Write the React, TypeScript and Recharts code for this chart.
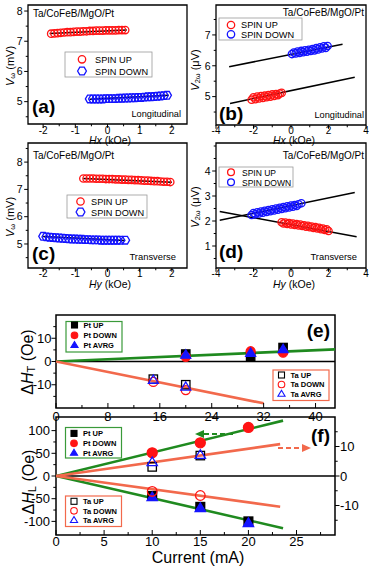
import React from 'react';
import { ComposedChart, Scatter, Line, XAxis, YAxis, ReferenceArea, ReferenceLine } from 'recharts';

const FONT = '"Liberation Sans", Arial, Helvetica, sans-serif';
const RED = '#ff1414';
const BLUE = '#1414ff';
const GREEN = '#1f8a1f';
const ORANGE = '#f2694c';
const LGREEN = '#3a9a3a';

// ---------- Panel (a): longitudinal, V_omega vs Hx ----------
const aUpH = [-1.75, -1.65, -1.55, -1.45, -1.35, -1.25, -1.15, -1.05, -0.95, -0.85, -0.75, -0.65, -0.55, -0.45, -0.35, -0.25, -0.15, -0.05, 0.05, 0.15, 0.25, 0.35, 0.45, 0.55];
const aUpV = [7.25, 7.26, 7.27, 7.28, 7.29, 7.30, 7.30, 7.31, 7.32, 7.32, 7.33, 7.33, 7.34, 7.34, 7.35, 7.35, 7.35, 7.36, 7.36, 7.36, 7.36, 7.37, 7.37, 7.37];
const aUpFitH = [-1.8, 0.6];
const aUpFitV = [7.26, 7.37];
const aDnH = [-0.55, -0.45, -0.35, -0.25, -0.15, -0.05, 0.05, 0.15, 0.25, 0.35, 0.45, 0.55, 0.65, 0.75, 0.85, 0.95, 1.05, 1.15, 1.25, 1.35, 1.45, 1.55, 1.65, 1.75, 1.85];
const aDnV = [5.09, 5.09, 5.09, 5.09, 5.09, 5.10, 5.10, 5.10, 5.10, 5.11, 5.11, 5.12, 5.12, 5.13, 5.13, 5.14, 5.14, 5.15, 5.16, 5.16, 5.17, 5.18, 5.19, 5.20, 5.21];
const aDnFitH = [-0.55, 1.9];
const aDnFitV = [5.08, 5.21];

// ---------- Panel (b): longitudinal, V_2omega vs Hx ----------
const bUpH = [-2.1, -2.0, -1.9, -1.8, -1.7, -1.6, -1.5, -1.4, -1.3, -1.2, -1.1, -1.0, -0.9, -0.8, -0.7, -0.6, -0.5];
const bUpV = [4.90, 4.98, 4.92, 5.00, 4.94, 5.02, 4.96, 5.03, 4.98, 5.05, 5.00, 5.07, 5.02, 5.08, 5.05, 5.10, 5.12];
const bUpFitH = [-3.25, 3.4];
const bUpFitV = [4.78, 5.63];
const bDnH = [0.05, 0.15, 0.25, 0.35, 0.45, 0.55, 0.65, 0.75, 0.85, 0.95, 1.05, 1.15, 1.25, 1.35, 1.45, 1.55, 1.65, 1.75, 1.85, 1.95];
const bDnV = [6.38, 6.43, 6.40, 6.46, 6.42, 6.48, 6.44, 6.50, 6.46, 6.52, 6.48, 6.54, 6.50, 6.57, 6.53, 6.60, 6.56, 6.63, 6.58, 6.64];
const bDnFitH = [-3.3, 2.75];
const bDnFitV = [5.97, 6.70];

// ---------- Panel (c): transverse, V_omega vs Hy ----------
const cUpH = [-0.75, -0.65, -0.55, -0.45, -0.35, -0.25, -0.15, -0.05, 0.05, 0.15, 0.25, 0.35, 0.45, 0.55, 0.65, 0.75, 0.85, 0.95, 1.05, 1.15, 1.25, 1.35, 1.45, 1.55, 1.65, 1.75, 1.85, 1.95];
const cUpV = [7.40, 7.40, 7.40, 7.40, 7.39, 7.39, 7.39, 7.38, 7.38, 7.38, 7.37, 7.37, 7.36, 7.36, 7.35, 7.35, 7.34, 7.34, 7.33, 7.32, 7.32, 7.31, 7.30, 7.30, 7.29, 7.28, 7.28, 7.27];
const cUpFitH = [-0.75, 2.0];
const cUpFitV = [7.40, 7.26];
const cDnH = [-2.0, -1.9, -1.8, -1.7, -1.6, -1.5, -1.4, -1.3, -1.2, -1.1, -1.0, -0.9, -0.8, -0.7, -0.6, -0.5, -0.4, -0.3, -0.2, -0.1, 0.0, 0.1, 0.2, 0.3, 0.4, 0.55];
const cDnV = [5.28, 5.26, 5.25, 5.24, 5.23, 5.22, 5.21, 5.20, 5.19, 5.18, 5.18, 5.17, 5.17, 5.16, 5.16, 5.15, 5.15, 5.15, 5.14, 5.14, 5.14, 5.14, 5.14, 5.14, 5.14, 5.14];
const cDnFitH = [-2.0, 0.55];
const cDnFitV = [5.27, 5.13];

// ---------- Panel (d): transverse, V_2omega vs Hy ----------
const dUpH = [-0.5, -0.4, -0.3, -0.2, -0.1, 0.0, 0.1, 0.2, 0.3, 0.4, 0.5, 0.6, 0.7, 0.8, 0.9, 1.0, 1.1, 1.2, 1.3, 1.4, 1.5, 1.6, 1.7, 1.8, 1.9, 2.0];
const dUpV = [1.95, 1.90, 1.94, 1.88, 1.92, 1.86, 1.90, 1.84, 1.88, 1.82, 1.86, 1.80, 1.83, 1.77, 1.81, 1.75, 1.78, 1.72, 1.76, 1.70, 1.73, 1.67, 1.70, 1.64, 1.67, 1.60];
const dUpFitH = [-3.8, 3.5];
const dUpFitV = [2.38, 1.37];
const dDnH = [-2.1, -2.0, -1.9, -1.8, -1.7, -1.6, -1.5, -1.4, -1.3, -1.2, -1.1, -1.0, -0.9, -0.8, -0.7, -0.6, -0.5, -0.4, -0.3, -0.2, -0.1, 0.0, 0.1, 0.2, 0.3, 0.4, 0.55];
const dDnV = [2.24, 2.32, 2.27, 2.35, 2.30, 2.38, 2.33, 2.41, 2.36, 2.44, 2.39, 2.47, 2.42, 2.50, 2.45, 2.53, 2.48, 2.56, 2.51, 2.59, 2.54, 2.62, 2.57, 2.64, 2.60, 2.67, 2.71];
const dDnFitH = [-3.8, 3.4];
const dDnFitV = [2.03, 3.14];

// ---------- Panel (e): ΔH_T vs current ----------
const ePtI = [20, 30, 35];
const ePtUp = [3.2, 2.2, 6.0];
const ePtDown = [2.0, 4.4, 3.8];
const ePtAvg = [2.8, 3.6, 5.2];
const eTaI = [15, 20];
const eTaUp = [-7.6, -10.0];
const eTaDown = [-8.8, -12.3];
const eTaAvg = [-8.0, -11.0];
const eGreenI = [0, 43];
const eGreenV = [0, 5.2];
const eOrangeI = [0, 32];
const eOrangeV = [0, -18];

// ---------- Panel (f): ΔH_L vs current ----------
const fPtI = [10, 15, 20];
const fPtUp = [-44, -68, -100];
const fPtDown = [51, 73, 107];
const fPtAvg = [-47, -71, -104];
const fTaI = [10, 15];
const fTaUp = [20, 45];
const fTaDown = [-34, -43];
const fTaAvg = [30, 46];
const fGreenI = [0, 23.6];
const fGreenUp = [0, 122];
const fGreenDn = [0, -115];
const fOrangeI = [0, 23.3];
const fOrangeUp = [0, 10.8];
const fOrangeDn = [0, -10.4];

// ---------- Tick lists ----------
const abXTicksA = [-2, -1.5, -1, -0.5, 0, 0.5, 1, 1.5, 2];
const abXMajorA = [-2, -1, 0, 1, 2];
const xTicksB = [-4, -3, -2, -1, 0, 1, 2, 3, 4];
const xMajorB = [-4, -2, 0, 2, 4];
const yTicksA = [4.5, 5, 5.5, 6, 6.5, 7, 7.5, 8];
const yMajorA = [5, 6, 7, 8];
const yTicksB = [4.5, 5, 5.5, 6, 6.5, 7, 7.5];
const yMajorB = [5, 6, 7];
const yTicksC = [4.5, 5, 5.5, 6, 6.5, 7, 7.5, 8, 8.5];
const yMajorC = [5, 6, 7, 8];
const yTicksD = [0.5, 1, 1.5, 2, 2.5, 3, 3.5, 4, 4.5, 5];
const yMajorD = [1, 2, 3, 4];
const eXTicks = [0, 4, 8, 12, 16, 20, 24, 28, 32, 36, 40];
const eXMajor = [0, 8, 16, 24, 32, 40];
const eYTicks = [-15, -10, -5, 0, 5, 10, 15];
const eYMajor = [-10, 0, 10];
const fXTicks = [0, 2.5, 5, 7.5, 10, 12.5, 15, 17.5, 20, 22.5, 25, 27.5];
const fXMajor = [0, 5, 10, 15, 20, 25];
const fYLTicks = [-100, -75, -50, -25, 0, 25, 50, 75, 100];
const fYLMajor = [-100, -50, 0, 50, 100];
const fYRTicks = [-15, -10, -5, 0, 5, 10, 15];
const fYRMajor = [-10, 0, 10];

const toPts = (xs: number[], ys: number[]) => xs.map((x, i) => ({ x, y: ys[i] }));

// ---------- marker drawing ----------
type Kind = 'circle' | 'hex' | 'square' | 'tri';
function marker(kind: Kind, cx: number, cy: number, color: string, size: number, filled: boolean, sw = 1.3) {
  const fill = filled ? color : 'none';
  if (kind === 'circle') return <circle cx={cx} cy={cy} r={size} fill={fill} stroke={color} strokeWidth={sw} />;
  if (kind === 'square') return <rect x={cx - size} y={cy - size} width={size * 2} height={size * 2} fill={fill} stroke={color} strokeWidth={sw} />;
  if (kind === 'tri') {
    const h = size * 1.8;
    const p = `${cx},${cy - h * 0.62} ${cx - size * 1.08},${cy + h * 0.38} ${cx + size * 1.08},${cy + h * 0.38}`;
    return <polygon points={p} fill={fill} stroke={color} strokeWidth={sw} strokeLinejoin="miter" />;
  }
  const ry = size * 0.87;
  const p = `${cx - size},${cy} ${cx - size / 2},${cy - ry} ${cx + size / 2},${cy - ry} ${cx + size},${cy} ${cx + size / 2},${cy + ry} ${cx - size / 2},${cy + ry}`;
  return <polygon points={p} fill={fill} stroke={color} strokeWidth={sw} />;
}
const shape = (kind: Kind, color: string, size: number, filled: boolean, sw = 1.3) => (p: any) =>
  p && p.cx != null && p.cy != null ? marker(kind, p.cx, p.cy, color, size, filled, sw) : <g />;

// ---------- tick renderer ----------
const mkTick = (side: 'b' | 'l' | 'r', majors: number[], fs: number, len: number, off: number, inward = false) =>
  (props: any) => {
    const { x, y, payload } = props;
    const v = payload ? payload.value : 0;
    const isMajor = majors.some((m) => Math.abs(m - v) < 1e-6);
    const L = isMajor ? len : len * 0.6;
    const d = inward ? -1 : 1;
    if (side === 'b') {
      return (
        <g>
          <line x1={x} y1={y} x2={x} y2={y + d * L} stroke="#000" strokeWidth={1} />
          {isMajor ? (
            <text x={x} y={y + off} textAnchor="middle" fontSize={fs} fontFamily={FONT} fill="#000">
              {String(v)}
            </text>
          ) : null}
        </g>
      );
    }
    const s = side === 'l' ? -1 : 1;
    return (
      <g>
        <line x1={x} y1={y} x2={x + s * d * L} y2={y} stroke="#000" strokeWidth={1} />
        {isMajor ? (
          <text x={x + s * off} y={y} dy="0.36em" textAnchor={side === 'l' ? 'end' : 'start'} fontSize={fs} fontFamily={FONT} fill="#000">
            {String(v)}
          </text>
        ) : null}
      </g>
    );
  };

type Box = { L: number; T: number; R: number; B: number };
type Cont = { x: number; y: number; w: number; h: number };

function layout(cont: Cont, box: Box, rightW = 0) {
  return {
    style: { position: 'absolute' as const, left: cont.x, top: cont.y, width: cont.w, height: cont.h },
    margin: { top: box.T - cont.y, right: cont.x + cont.w - box.R - rightW, bottom: 0, left: 0 },
    yW: box.L - cont.x,
    xH: cont.y + cont.h - box.B,
  };
}

type SmallCfg = {
  cont: Cont; box: Box; xD: [number, number]; yD: [number, number];
  xTicks: number[]; xMajor: number[]; yTicks: number[]; yMajor: number[]; xOff: number;
  up: { x: number; y: number }[]; dn: { x: number; y: number }[];
  upFit: { x: number; y: number }[]; dnFit: { x: number; y: number }[]; dnKind: Kind;
};

function renderSmall(c: SmallCfg) {
  const f = layout(c.cont, c.box);
  return (
    <div style={f.style}>
      <ComposedChart width={c.cont.w} height={c.cont.h} margin={f.margin}>
        <XAxis type="number" dataKey="x" domain={c.xD} allowDataOverflow ticks={c.xTicks} interval={0}
          axisLine={false} tickLine={false} tickSize={0} tickMargin={0} height={f.xH}
          tick={mkTick('b', c.xMajor, 10, 3.8, c.xOff)} />
        <YAxis type="number" dataKey="y" domain={c.yD} allowDataOverflow ticks={c.yTicks} interval={0}
          axisLine={false} tickLine={false} tickSize={0} tickMargin={0} width={f.yW}
          tick={mkTick('l', c.yMajor, 10.5, 3.8, 5.5)} />
        <Scatter data={c.up} dataKey="y" shape={shape('circle', RED, 3.7, false, 1.3)} isAnimationActive={false} />
        <Scatter data={c.dn} dataKey="y" shape={shape(c.dnKind, BLUE, c.dnKind === 'hex' ? 4.4 : 3.7, false, 1.3)} isAnimationActive={false} />
        <Line data={c.upFit} dataKey="y" stroke="#000" strokeWidth={1.5} dot={false} isAnimationActive={false} />
        <Line data={c.dnFit} dataKey="y" stroke="#000" strokeWidth={1.5} dot={false} isAnimationActive={false} />
        <ReferenceArea x1={c.xD[0]} x2={c.xD[1]} y1={c.yD[0]} y2={c.yD[1]} fill="none" fillOpacity={0} stroke="#000" strokeWidth={1.3} />
      </ComposedChart>
    </div>
  );
}

function ItText({ x, y, fs, rot, parts }: { x: number; y: number; fs: number; rot?: boolean; parts: { t: string; it?: boolean; sub?: boolean }[] }) {
  let shift = 0;
  const spans = parts.map((p, i) => {
    const target = p.sub ? fs * 0.22 : 0;
    const dy = target - shift;
    shift = target;
    return (
      <tspan key={i} fontStyle={p.it ? 'italic' : 'normal'} fontSize={p.sub ? fs * 0.68 : fs} dy={dy}>
        {p.t}
      </tspan>
    );
  });
  return (
    <text transform={rot ? `translate(${x},${y}) rotate(-90)` : undefined} x={rot ? 0 : x} y={rot ? 0 : y}
      textAnchor="middle" dominantBaseline={rot ? 'central' : undefined} fontSize={fs} fontFamily={FONT} fill="#000">
      {spans}
    </text>
  );
}

function Overlay() {
  const t = (x: number, y: number, s: string, fs: number, anchor: 'start' | 'end' | 'middle' = 'start', bold = false) => (
    <text x={x} y={y} fontSize={fs} fontFamily={FONT} textAnchor={anchor} fontWeight={bold ? 'bold' : 'normal'} fill="#000">{s}</text>
  );
  const ptLegend = (bx: number, by: number, names: string[], ys: number[], stroke: string, filled: boolean) => (
    <g>
      <rect x={bx} y={by} width={56} height={30.5} fill="#fff" stroke={stroke} strokeWidth={1.2} />
      {marker('square', bx + 8.5, ys[0], '#000', 3, filled, 1.1)}
      {marker('circle', bx + 8.5, ys[1], RED, 3.3, filled, 1.1)}
      {marker('tri', bx + 8.5, ys[2], BLUE, 3.3, filled, 1.1)}
      {names.map((n, i) => (
        <text key={n} x={bx + 17.5} y={ys[i] + 2.7} fontSize={7.5} fontWeight="bold" fontFamily={FONT} fill="#000">{n}</text>
      ))}
    </g>
  );
  return (
    <svg width={374} height={578} style={{ position: 'absolute', left: 0, top: 0, pointerEvents: 'none' }}>
      {/* (a) */}
      {t(33, 17, 'Ta/CoFeB/MgO/Pt', 10)}
      <rect x={65} y={52} width={87} height={25} fill="#fff" stroke="#9a9a9a" strokeWidth={0.8} />
      {marker('circle', 82, 59.3, RED, 3.7, false)}
      {marker('hex', 82, 71, BLUE, 4.4, false)}
      {t(95, 63, 'SPIN UP', 9.2)}
      {t(95, 75, 'SPIN DOWN', 9.2)}
      {t(181, 116.5, 'Longitudinal', 9.2, 'end')}
      {t(32, 113, '(a)', 19, 'start', true)}
      <ItText x={10} y={66} fs={11} rot parts={[{ t: 'V', it: true }, { t: 'ω', sub: true }, { t: ' (mV)' }]} />
      <ItText x={110} y={144} fs={10.5} parts={[{ t: 'Hx', it: true }, { t: ' (kOe)' }]} />

      {/* (b) */}
      {t(364, 16, 'Ta/CoFeB/MgO/Pt', 10, 'end')}
      <rect x={219} y={18} width={83} height={22} fill="#fff" stroke="#9a9a9a" strokeWidth={0.8} />
      {marker('circle', 231, 25, RED, 3.7, false)}
      {marker('circle', 231, 34.3, BLUE, 3.7, false)}
      {t(241, 28.3, 'SPIN UP', 9.2)}
      {t(241, 37.6, 'SPIN DOWN', 9.2)}
      {t(364, 118, 'Longitudinal', 9.2, 'end')}
      {t(219, 120, '(b)', 19, 'start', true)}
      <ItText x={195} y={70} fs={11} rot parts={[{ t: 'V', it: true }, { t: '2ω', sub: true }, { t: ' (μV)' }]} />
      <ItText x={294} y={144} fs={10.5} parts={[{ t: 'Hx', it: true }, { t: ' (kOe)' }]} />

      {/* (c) */}
      {t(33, 159, 'Ta/CoFeB/MgO/Pt', 10)}
      <rect x={67} y={195} width={80} height={23} fill="#fff" stroke="#9a9a9a" strokeWidth={0.8} />
      {marker('circle', 80.5, 201.5, RED, 3.7, false)}
      {marker('hex', 80.5, 212, BLUE, 4.4, false)}
      {t(91, 205, 'SPIN UP', 9.2)}
      {t(91, 216, 'SPIN DOWN', 9.2)}
      {t(176, 260, 'Transverse', 9.4, 'end')}
      {t(32, 260, '(c)', 19, 'start', true)}
      <ItText x={10} y={217} fs={11} rot parts={[{ t: 'V', it: true }, { t: 'ω', sub: true }, { t: ' (mV)' }]} />
      <ItText x={110} y={288} fs={10.5} parts={[{ t: 'Hy', it: true }, { t: ' (kOe)' }]} />

      {/* (d) */}
      {t(364, 159, 'Ta/CoFeB/MgO/Pt', 10, 'end')}
      <rect x={219} y={167} width={74} height={20} fill="#fff" stroke="#9a9a9a" strokeWidth={0.8} />
      {marker('circle', 231, 172.3, RED, 3.4, false)}
      {marker('circle', 231, 182.3, BLUE, 3.4, false)}
      {t(242, 175.5, 'SPIN UP', 8.5)}
      {t(242, 185.5, 'SPIN DOWN', 8.5)}
      {t(357, 260, 'Transverse', 9.4, 'end')}
      {t(219, 258, '(d)', 19, 'start', true)}
      <ItText x={195} y={207} fs={11} rot parts={[{ t: 'V', it: true }, { t: '2ω', sub: true }, { t: ' (μV)' }]} />
      <ItText x={294} y={288} fs={10.5} parts={[{ t: 'Hy', it: true }, { t: ' (kOe)' }]} />

      {/* (e) */}
      {ptLegend(66, 321.5, ['Pt UP', 'Pt DOWN', 'Pt AVRG'], [325, 335.3, 345.2], LGREEN, true)}
      {ptLegend(273, 370, ['Ta UP', 'Ta DOWN', 'Ta AVRG'], [375, 384.5, 394], ORANGE, false)}
      {t(330, 337, '(e)', 19, 'end', true)}
      <ItText x={27} y={362} fs={16} rot parts={[{ t: 'Δ' }, { t: 'H', it: true }, { t: 'T', sub: true }, { t: ' (Oe)' }]} />

      {/* (f) */}
      {ptLegend(65.5, 427.5, ['Pt UP', 'Pt DOWN', 'Pt AVRG'], [433.4, 443.3, 453], LGREEN, true)}
      {ptLegend(65.5, 496, ['Ta UP', 'Ta DOWN', 'Ta AVRG'], [501.3, 510.8, 520.2], ORANGE, false)}
      {t(330, 442, '(f)', 19, 'end', true)}
      <ItText x={28} y={482} fs={16} rot parts={[{ t: 'Δ' }, { t: 'H', it: true }, { t: 'L', sub: true }, { t: ' (Oe)' }]} />
      <ItText x={198} y={563} fs={16} parts={[{ t: 'Current (mA)' }]} />
      <line x1={233} y1={434} x2={203} y2={434} stroke={GREEN} strokeWidth={2} strokeDasharray="5 3" />
      <polygon points="195,434 204,430 204,438" fill={GREEN} />
      <line x1={278} y1={448} x2={303} y2={448} stroke={ORANGE} strokeWidth={2} strokeDasharray="5 3" />
      <polygon points="311,448 302,444 302,452" fill={ORANGE} />
    </svg>
  );
}

const contA: Cont = { x: 0, y: 0, w: 190, h: 145 };
const boxA: Box = { L: 28, T: 5, R: 187, B: 124 };
const contB: Cont = { x: 190, y: 0, w: 184, h: 145 };
const boxB: Box = { L: 216, T: 5, R: 366, B: 125 };
const contC: Cont = { x: 0, y: 138, w: 190, h: 152 };
const boxC: Box = { L: 28, T: 143, R: 187, B: 268 };
const contD: Cont = { x: 190, y: 138, w: 184, h: 152 };
const boxD: Box = { L: 216, T: 143, R: 366, B: 268 };
const contE: Cont = { x: 0, y: 290, w: 374, h: 135 };
const boxE: Box = { L: 56, T: 315, R: 335, B: 408 };
const contF: Cont = { x: 0, y: 410, w: 374, h: 168 };
const boxF: Box = { L: 56, T: 417, R: 335, B: 535 };

export default function App() {
  const eL = layout(contE, boxE);
  const fRW = 39;
  const fL = layout(contF, boxF, fRW);
  const eXD: [number, number] = [0, 43];
  const eYD: [number, number] = [-20, 20];
  const fXD: [number, number] = [0, 29];
  const fYLD: [number, number] = [-130, 130];
  const fYRD: [number, number] = [-20, 20];
  return (
    <div style={{ position: 'absolute', left: 0, top: 0, width: 374, height: 578, background: '#fff', overflow: 'hidden', fontFamily: FONT }}>
      {renderSmall({
        cont: contA, box: boxA, xD: [-2.47, 2.47], yD: [4.26, 8.2], xTicks: abXTicksA, xMajor: abXMajorA,
        yTicks: yTicksA, yMajor: yMajorA, xOff: 9.5,
        up: toPts(aUpH, aUpV), dn: toPts(aDnH, aDnV), upFit: toPts(aUpFitH, aUpFitV), dnFit: toPts(aDnFitH, aDnFitV), dnKind: 'hex',
      })}
      {renderSmall({
        cont: contB, box: boxB, xD: [-4, 4], yD: [4.08, 7.97], xTicks: xTicksB, xMajor: xMajorB,
        yTicks: yTicksB, yMajor: yMajorB, xOff: 8.5,
        up: toPts(bUpH, bUpV), dn: toPts(bDnH, bDnV), upFit: toPts(bUpFitH, bUpFitV), dnFit: toPts(bDnFitH, bDnFitV), dnKind: 'circle',
      })}
      {renderSmall({
        cont: contC, box: boxC, xD: [-2.47, 2.47], yD: [4.12, 8.7], xTicks: abXTicksA, xMajor: abXMajorA,
        yTicks: yTicksC, yMajor: yMajorC, xOff: 9,
        up: toPts(cUpH, cUpV), dn: toPts(cDnH, cDnV), upFit: toPts(cUpFitH, cUpFitV), dnFit: toPts(cDnFitH, cDnFitV), dnKind: 'hex',
      })}
      {renderSmall({
        cont: contD, box: boxD, xD: [-4, 4], yD: [0.12, 5.12], xTicks: xTicksB, xMajor: xMajorB,
        yTicks: yTicksD, yMajor: yMajorD, xOff: 9,
        up: toPts(dUpH, dUpV), dn: toPts(dDnH, dDnV), upFit: toPts(dUpFitH, dUpFitV), dnFit: toPts(dDnFitH, dDnFitV), dnKind: 'circle',
      })}

      <div style={eL.style}>
        <ComposedChart width={contE.w} height={contE.h} margin={eL.margin}>
          <XAxis type="number" dataKey="x" domain={eXD} allowDataOverflow ticks={eXTicks} interval={0}
            axisLine={false} tickLine={false} tickSize={0} tickMargin={0} height={eL.xH}
            tick={mkTick('b', eXMajor, 13, 5, 12.5, true)} />
          <YAxis type="number" dataKey="y" domain={eYD} allowDataOverflow ticks={eYTicks} interval={0}
            axisLine={false} tickLine={false} tickSize={0} tickMargin={0} width={eL.yW}
            tick={mkTick('l', eYMajor, 13, 4.5, 4.5)} />
          <ReferenceLine y={0} stroke="#000" strokeWidth={1.3} />
          <Line data={toPts(eGreenI, eGreenV)} dataKey="y" stroke={GREEN} strokeWidth={2.6} dot={false} isAnimationActive={false} />
          <Line data={toPts(eOrangeI, eOrangeV)} dataKey="y" stroke={ORANGE} strokeWidth={2.6} dot={false} isAnimationActive={false} />
          <Scatter data={toPts(ePtI, ePtUp)} dataKey="y" shape={shape('square', '#000', 4.2, true)} isAnimationActive={false} />
          <Scatter data={toPts(ePtI, ePtDown)} dataKey="y" shape={shape('circle', RED, 4.5, true)} isAnimationActive={false} />
          <Scatter data={toPts(ePtI, ePtAvg)} dataKey="y" shape={shape('tri', BLUE, 4.6, true)} isAnimationActive={false} />
          <Scatter data={toPts(eTaI, eTaUp)} dataKey="y" shape={shape('square', '#000', 4.2, false, 1.3)} isAnimationActive={false} />
          <Scatter data={toPts(eTaI, eTaDown)} dataKey="y" shape={shape('circle', RED, 4.5, false, 1.3)} isAnimationActive={false} />
          <Scatter data={toPts(eTaI, eTaAvg)} dataKey="y" shape={shape('tri', BLUE, 4.6, false, 1.3)} isAnimationActive={false} />
          <ReferenceArea x1={eXD[0]} x2={eXD[1]} y1={eYD[0]} y2={eYD[1]} fill="none" fillOpacity={0} stroke="#000" strokeWidth={1.5} />
        </ComposedChart>
      </div>

      <div style={fL.style}>
        <ComposedChart width={contF.w} height={contF.h} margin={fL.margin}>
          <XAxis type="number" dataKey="x" domain={fXD} allowDataOverflow ticks={fXTicks} interval={0}
            axisLine={false} tickLine={false} tickSize={0} tickMargin={0} height={fL.xH}
            tick={mkTick('b', fXMajor, 13, 5, 10.5, true)} />
          <YAxis yAxisId="l" type="number" dataKey="y" domain={fYLD} allowDataOverflow ticks={fYLTicks} interval={0}
            axisLine={false} tickLine={false} tickSize={0} tickMargin={0} width={fL.yW}
            tick={mkTick('l', fYLMajor, 13, 4.5, 6)} />
          <YAxis yAxisId="r" orientation="right" type="number" dataKey="y" domain={fYRD} allowDataOverflow ticks={fYRTicks} interval={0}
            axisLine={false} tickLine={false} tickSize={0} tickMargin={0} width={fRW}
            tick={mkTick('r', fYRMajor, 13, 4.5, 5)} />
          <ReferenceLine yAxisId="l" y={0} stroke="#000" strokeWidth={1.3} />
          <Line yAxisId="l" data={toPts(fGreenI, fGreenUp)} dataKey="y" stroke={GREEN} strokeWidth={2.6} dot={false} isAnimationActive={false} />
          <Line yAxisId="l" data={toPts(fGreenI, fGreenDn)} dataKey="y" stroke={GREEN} strokeWidth={2.6} dot={false} isAnimationActive={false} />
          <Line yAxisId="r" data={toPts(fOrangeI, fOrangeUp)} dataKey="y" stroke={ORANGE} strokeWidth={2.6} dot={false} isAnimationActive={false} />
          <Line yAxisId="r" data={toPts(fOrangeI, fOrangeDn)} dataKey="y" stroke={ORANGE} strokeWidth={2.6} dot={false} isAnimationActive={false} />
          <Scatter yAxisId="l" data={toPts(fPtI, fPtUp)} dataKey="y" shape={shape('square', '#000', 4.4, true)} isAnimationActive={false} />
          <Scatter yAxisId="l" data={toPts(fPtI, fPtDown)} dataKey="y" shape={shape('circle', RED, 5, true)} isAnimationActive={false} />
          <Scatter yAxisId="l" data={toPts(fPtI, fPtAvg)} dataKey="y" shape={shape('tri', BLUE, 4.8, true)} isAnimationActive={false} />
          <Scatter yAxisId="l" data={toPts(fTaI, fTaUp)} dataKey="y" shape={shape('square', '#000', 4.2, false, 1.3)} isAnimationActive={false} />
          <Scatter yAxisId="l" data={toPts(fTaI, fTaDown)} dataKey="y" shape={shape('circle', RED, 4.8, false, 1.3)} isAnimationActive={false} />
          <Scatter yAxisId="l" data={toPts(fTaI, fTaAvg)} dataKey="y" shape={shape('tri', BLUE, 4.8, false, 1.3)} isAnimationActive={false} />
          <ReferenceArea yAxisId="l" x1={fXD[0]} x2={fXD[1]} y1={fYLD[0]} y2={fYLD[1]} fill="none" fillOpacity={0} stroke="#000" strokeWidth={1.5} />
        </ComposedChart>
      </div>

      <Overlay />
    </div>
  );
}
